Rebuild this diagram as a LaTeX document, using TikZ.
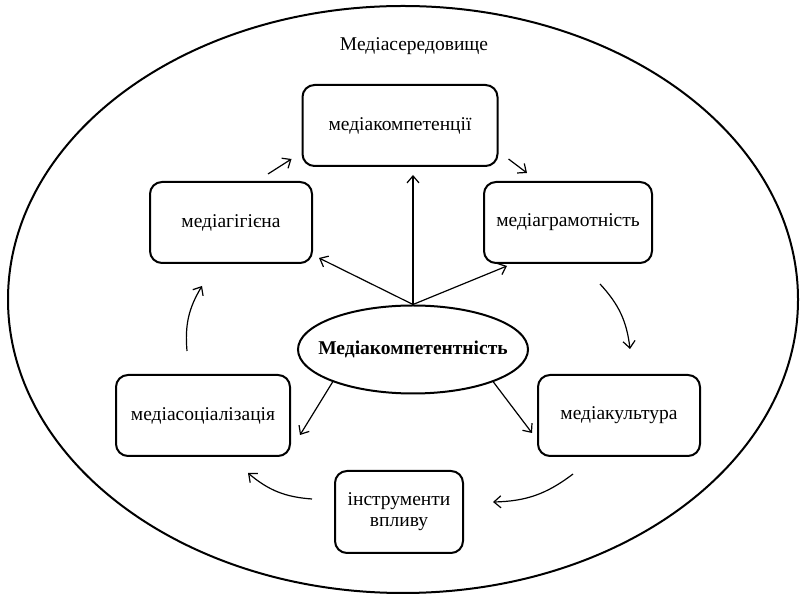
\documentclass[tikz,border=0pt]{standalone}
\usepackage{fontspec}
\setmainfont{Liberation Serif}
\usetikzlibrary{arrows.meta,shapes}

\begin{document}
\begin{tikzpicture}[
		x=1pt, y=1pt,
		basic/.style = {draw, line width=2pt, font=\fontsize{19.5}{21}\selectfont},
		box/.style   = {basic, rectangle, rounded corners=12pt, align=center, minimum height=81pt, inner sep=0pt},
		env/.style   = {draw, line width=2pt, ellipse, minimum width=790pt, minimum height=587pt, inner sep=0pt},
		core/.style  = {basic, ellipse, minimum width=230pt, minimum height=88pt, inner sep=0pt},
		arr/.style   = {-{Straight Barb[length=7pt,width=12pt]}, line width=1.2pt},
		>=latex]
		
		\useasboundingbox (0,0) rectangle (800,596);
		
		% the media environment around everything
		\node[env] (env) at (403,296.5) {};
		\node[font=\fontsize{19.5}{21}\selectfont] (envlabel) at (414,550) {Медіасередовище};
		
		% the centre
		\node[core, label={[font=\fontsize{19.5}{21}\selectfont\bfseries]center:Медіакомпетентність}] (core) at (413,246.5) {};
		
		% the boxes of the cycle
		\node[box, minimum width=195pt] (kompet) at (400,470.5) {медіакомпетенції};
		\node[box, minimum width=162pt] (hig)    at (231,373.5) {медіагігієна};
		\node[box, minimum width=168pt] (gram)   at (568,373.5) {медіаграмотність};
		\node[box, minimum width=174pt] (soc)    at (203,180.5) {медіасоціалізація};
		\node[box, minimum width=162pt] (kult)   at (619,180.5) {медіакультура};
		\node[box, minimum width=128pt, minimum height=82pt] (instr) at (399,84) {інструменти\\впливу};
		
		% lines from the centre to the boxes
		\draw[arr, shorten >=8pt] (core.north) -- (core.north |- kompet.south);
		\draw[arr] (core.north) -- ([xshift=6pt,yshift=6pt]hig.south east);
		\draw[arr] (core.north) -- ([xshift=24pt,yshift=-2pt]gram.south west);
		\draw[arr] (core.202) -- ([xshift=9pt,yshift=-19.5pt]soc.east);
		\draw[arr] (core.338) -- ([xshift=-5pt,yshift=-17.5pt]kult.west);
		
		% the cycle
		\draw[arr] ([xshift=37pt,yshift=7pt]hig.north) -- ([xshift=-10pt,yshift=8pt]kompet.south west);
		\draw[arr] ([xshift=10pt,yshift=8pt]kompet.south east) -- ([xshift=44pt,yshift=8pt]gram.north west);
		\draw[arr] ([xshift=32pt,yshift=-20pt]gram.south) to[bend left=18] ([xshift=11pt,yshift=25pt]kult.north);
		\draw[arr] ([xshift=-46pt,yshift=-17pt]kult.south) to[bend left=18] ([xshift=29pt,yshift=10pt]instr.east);
		\draw[arr] ([xshift=-22pt,yshift=13pt]instr.west) to[bend left=18] ([xshift=45pt,yshift=-16pt]soc.south);
		\draw[arr] ([xshift=-16pt,yshift=23pt]soc.north) to[bend left=18] ([xshift=-29pt,yshift=-22pt]hig.south);
		
	\end{tikzpicture}
\end{document}
